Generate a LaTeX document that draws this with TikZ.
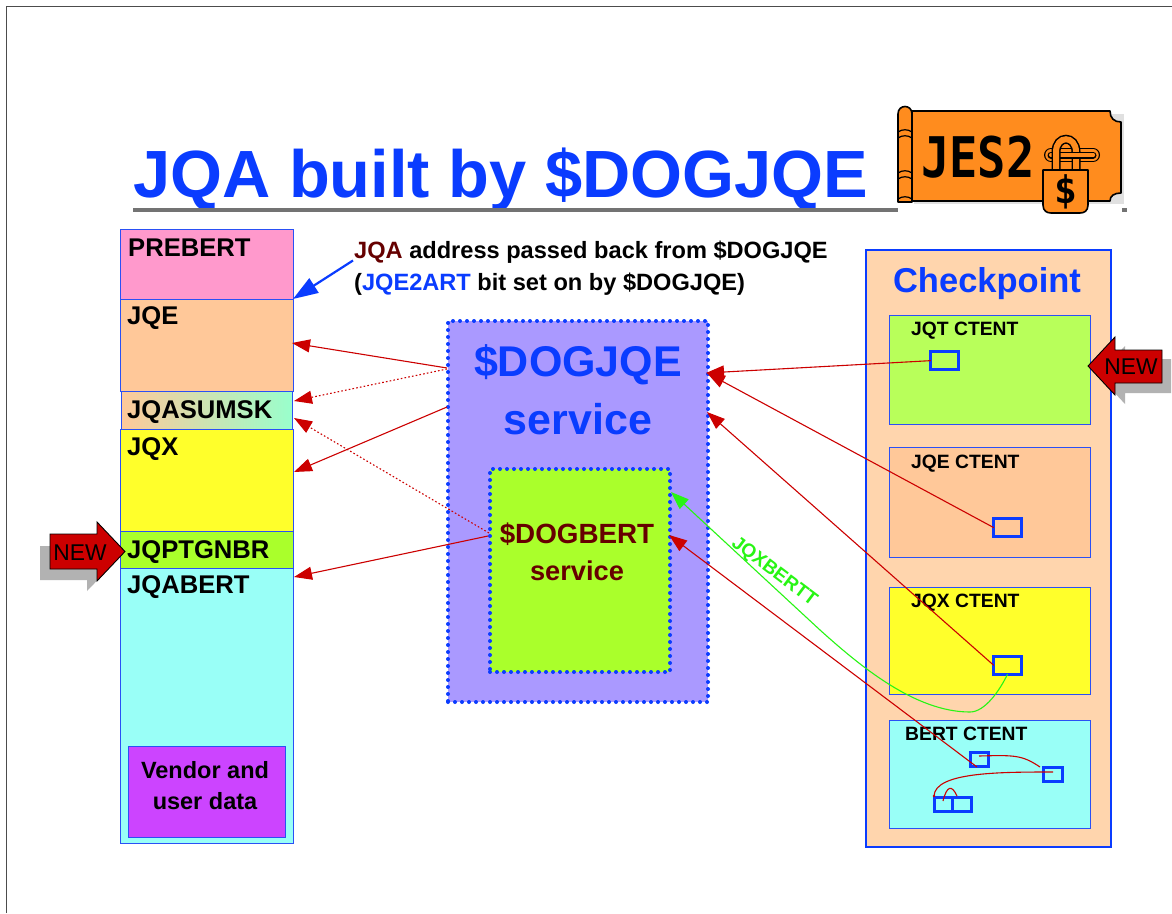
\documentclass[tikz,border=0pt]{standalone}
\usepackage{fontspec}
\setmainfont{Liberation Sans}
\newfontfamily\logofont{DejaVu Sans Mono}
\usetikzlibrary{arrows.meta}
\definecolor{tblue}{HTML}{0A3CFF}
\definecolor{lblue}{HTML}{2A50F5}
\definecolor{dred}{HTML}{660000}
\definecolor{ared}{HTML}{CC0000}
\definecolor{orng}{HTML}{FF8C1E}
\definecolor{lime}{HTML}{28F514}
\newcommand{\fsz}[1]{\fontsize{#1}{#1}\selectfont\bfseries}
\tikzset{
  area/.style={draw=lblue,line width=.9pt,anchor=north west,inner sep=0,outer sep=0},
  slot/.style={draw=tblue,line width=3pt,fill=none,anchor=north west,inner sep=0,outer sep=0},
  lab/.style={anchor=base west,inner sep=0,text=black,font=\fsz{25.600}},
  ctlab/.style={anchor=base west,inner sep=0,text=black,font=\fsz{19.300}},
  ctr/.style={draw=ared,line width=1.1pt,-{Triangle[length=18pt,width=13pt,fill=ared]}},
  ctrdot/.style={ctr,dash pattern=on 1.6pt off 2.2pt},
  inner/.style={draw=ared,line width=1.1pt},
  dotbox/.style={anchor=north west,inner sep=0,outer sep=0,draw=tblue,line width=4pt,line cap=round,dash pattern=on 0pt off 7pt},
  newarrow/.style={fill=ared,draw=black,line width=.9pt},
  shade/.style={fill=black!30},
  logoline/.style={draw=black,line width=1.6pt,fill=orng,line join=round},
}
\begin{document}
\begin{tikzpicture}[x=1pt,y=-1pt]
\useasboundingbox (0,0) rectangle (1172,913);
\fill[white] (0,0) rectangle (1172,913);
% slide edge
\coordinate (edgeA) at (6,913); \coordinate (edgeB) at (6,6); \coordinate (edgeC) at (1172,6);
\draw[black!70,line width=.7pt] (edgeA) -- (edgeB) -- (edgeC);
% title
\node[anchor=base west,inner sep=0,text=tblue,font=\fsz{66.800}] (title) at (133,197) {JQA built by \$DOGJQE};
\fill[black!55] (133,207.5) rectangle (898,211.5);
\fill[black!55] (1122,207.5) rectangle (1127,211.5);
% logo
\fill[black!12] (914,114) rectangle (1124,204);
\draw[logoline] (912,111) -- (1110,111) .. controls (1110,118) and (1114,122) .. (1121,122) -- (1121,193) .. controls (1114,193) and (1110,196) .. (1110,201) -- (912,201) -- cycle;
\draw[logoline] (898,202) -- (898,114) .. controls (898,104) and (912,104) .. (912,114) -- (912,202) -- cycle;
\draw[black,line width=1.2pt] (898,132) .. controls (902,129) and (908,129) .. (912,132) (898,138) .. controls (902,135) and (908,135) .. (912,138) (898,173) .. controls (902,170) and (908,170) .. (912,173) (898,179) .. controls (902,176) and (908,176) .. (912,179) (898,199) .. controls (902,196) and (908,196) .. (912,199);
\node[anchor=base west,inner sep=0,text=black,xscale=.84,font={\logofont\fsz{56}}] (logotext) at (921,177) {JES2};
\draw[black,line width=14pt,line cap=round] (1051,155) -- (1093,155);
\draw[orng,line width=11.5pt,line cap=round] (1051,155) -- (1093,155);
\draw[black,line width=7pt,line cap=round] (1051,155) -- (1093,155);
\draw[orng,line width=4pt,line cap=round] (1051,155) -- (1093,155);
\draw[black,line width=9pt] (1056,172) -- (1056,152) .. controls (1056,135) and (1076,135) .. (1076,152) -- (1076,172);
\draw[orng,line width=6pt] (1056,172) -- (1056,152) .. controls (1056,135) and (1076,135) .. (1076,152) -- (1076,172);
\draw[black,line width=7pt] (1070,155) -- (1093,155);
\draw[orng,line width=4pt,line cap=round] (1070,155) -- (1093,155);
\draw[logoline] (1043,170) -- (1088,170) -- (1088,205) .. controls (1088,211) and (1084,213) .. (1080,213) -- (1051,213) .. controls (1047,213) and (1043,211) .. (1043,205) -- cycle;
\node[inner sep=0,text=black,font={\logofont\fsz{38}}] (logodollar) at (1066,192) {\$};
% left column
\node[area,fill={rgb,255:red,255;green,153;blue,204},minimum width=173pt,minimum height=70pt] (prebert) at (120,229) {};
\node[area,fill={rgb,255:red,255;green,200;blue,153},minimum width=173pt,minimum height=92pt] (jqe) at (120,299) {};
\node[area,fill={rgb,255:red,255;green,255;blue,43},minimum width=173pt,minimum height=102pt] (jqx) at (120,429) {};
\node[area,left color={rgb,255:red,255;green,200;blue,153},right color={rgb,255:red,153;green,255;blue,204},minimum width=171pt,minimum height=38pt] (jqasumsk) at (121,391) {};
\node[area,fill={rgb,255:red,170;green,255;blue,43},minimum width=173pt,minimum height=37pt] (jqptgnbr) at (120,531) {};
\node[area,fill={rgb,255:red,153;green,255;blue,247},minimum width=173pt,minimum height=275pt] (jqabert) at (120,568) {};
\node[area,fill={rgb,255:red,204;green,68;blue,255},minimum width=157pt,minimum height=91pt] (vendor) at (128,746) {};
\node[lab] (lprebert) at (128,256) {PREBERT};
\node[lab] (ljqe) at (127,324) {JQE};
\node[lab] (ljqasumsk) at (127,418) {JQASUMSK};
\node[lab] (ljqx) at (127,455) {JQX};
\node[lab] (ljqptgnbr) at (127,558) {JQPTGNBR};
\node[lab] (ljqabert) at (127,593) {JQABERT};
\node[inner sep=0,align=center,text=black,font=\fsz{23.500}] (lvendor) at (205,785.500) {Vendor and\\[7.5pt]user data};
% note
\node[anchor=base west,inner sep=0,font=\fsz{23.600}] (note1) at (354,258) {\textcolor{dred}{JQA} address passed back from \$DOGJQE};
\node[anchor=base west,inner sep=0,font=\fsz{23.600}] (note2) at (354,290) {(\textcolor{tblue}{JQE2ART} bit set on by \$DOGJQE)};
% service
\fill[fill={rgb,255:red,170;green,153;blue,255}] (448,321) rectangle (708,702);
\node[dotbox,minimum width=260pt,minimum height=381pt] (svc) at (448,321) {};
\node[inner sep=0,text=tblue,font=\fsz{43}] (svct1) at (578,364.500) {\$DOGJQE};
\node[inner sep=0,text=tblue,font=\fsz{43}] (svct2) at (578,419) {service};
\fill[fill={rgb,255:red,170;green,255;blue,43}] (490,469) rectangle (670,672);
\node[dotbox,minimum width=180pt,minimum height=203pt] (dog) at (490,469) {};
\node[inner sep=0,text=dred,font=\fsz{27.800}] (dogt1) at (577,534) {\$DOGBERT};
\node[inner sep=0,text=dred,font=\fsz{27.200}] (dogt2) at (577,571) {service};
% checkpoint
\node[anchor=north west,inner sep=0,outer sep=0,fill={rgb,255:red,255;green,213;blue,173},draw=tblue,line width=1.8pt,minimum width=245pt,minimum height=597pt] (ckpt) at (866,250) {};
\node[inner sep=0,text=tblue,font=\fsz{34.500}] (ckptt) at (987,284) {Checkpoint};
\node[area,fill={rgb,255:red,184;green,255;blue,90},minimum width=201pt,minimum height=109pt] (ctjqt) at (889,315) {};
\node[area,fill={rgb,255:red,255;green,200;blue,153},minimum width=201pt,minimum height=110pt] (ctjqe) at (889,447) {};
\node[area,fill={rgb,255:red,255;green,255;blue,43},minimum width=201pt,minimum height=107pt] (ctjqx) at (889,587) {};
\node[area,fill={rgb,255:red,153;green,255;blue,247},minimum width=201pt,minimum height=108pt] (ctbert) at (889,720) {};
\node[ctlab] (lctjqt) at (911,335) {JQT CTENT};
\node[ctlab] (lctjqe) at (911,468) {JQE CTENT};
\node[ctlab] (lctjqx) at (911,607) {JQX CTENT};
\node[ctlab] (lctbert) at (905,740) {BERT CTENT};
\node[slot,minimum width=27.4pt,minimum height=17.7pt] (sjqt) at (930.8,351.8) {};
\node[slot,minimum width=27.4pt,minimum height=17.7pt] (sjqe) at (993.8,518.8) {};
\node[slot,minimum width=27.4pt,minimum height=17.7pt] (sjqx) at (993.8,656.5) {};
\node[slot,minimum width=18.5pt,minimum height=13.6pt] (sb1) at (970.2,752.5) {};
\node[slot,minimum width=19.3pt,minimum height=13.5pt] (sb2) at (1043.2,767.5) {};
\node[slot,minimum width=18.5pt,minimum height=14.6pt] (sb3) at (934.2,797.2) {};
\node[slot,minimum width=19.1pt,minimum height=14.6pt] (sb4) at (952.7,797.2) {};
% connector ends
\coordinate (jqein) at (292,343);
\coordinate (masktop) at (294,401);
\coordinate (maskbot) at (294,418);
\coordinate (jqxin) at (294,472);
\coordinate (bertin) at (294,577);
\coordinate (svcA) at (447,368);
\coordinate (svcB) at (447,369);
\coordinate (svcC) at (447,407);
\coordinate (dogA) at (489,533);
\coordinate (dogB) at (488,536);
\coordinate (svcR1) at (706,373);
\coordinate (svcR2) at (707,373);
\coordinate (svcR3) at (707,412);
\coordinate (dogR1) at (669,535);
\coordinate (dogR2) at (671,492);
\coordinate (noteEnd) at (353,260.500);
\coordinate (b1in) at (979,756);
\coordinate (b1out) at (977,767);
\coordinate (b2a) at (1040,767);
\coordinate (b2b) at (1053,772);
\coordinate (b3a) at (934,796);
\coordinate (b3b) at (943,801);
\coordinate (b4a) at (957,796);
% connectors
\draw[ctr] (svcA) -- (jqein);
\draw[ctrdot] (svcB) -- (masktop);
\draw[ctr] (svcC) -- (jqxin);
\draw[ctrdot] (dogA) -- (maskbot);
\draw[ctr] (dogB) -- (bertin);
\draw[ctr] (sjqt.west) -- (svcR1);
\draw[ctr] (sjqe.west) -- (svcR2);
\draw[ctr] (sjqx.west) -- (svcR3);
\draw[ctr] (b1out) -- (dogR1);
\draw[draw=lime,line width=1.1pt,-{Triangle[length=18pt,width=13pt,fill=lime]}] (sjqx.south) .. controls (1000,690) and (985,712) .. (970,712) .. controls (915,712) and (860,666) .. (820,630) -- (dogR2);
\node[inner sep=0,rotate=-37,text=lime,font=\fsz{19}] (jqxbertt) at (774,572) {JQXBERTT};
\draw[tblue,line width=2.2pt,-{Triangle[length=25pt,width=17pt,fill=tblue]}] (noteEnd) -- (prebert.south east);
\draw[inner] (b1in) .. controls (1015,755) and (1022,755) .. (b2a);
\draw[inner] (b2b) .. controls (1000,772) and (935,772) .. (b3a);
\draw[inner] (b3b) .. controls (947,785) and (952,785) .. (b4a);
\fill[ared] (b3a) circle (1.3pt);
% NEW arrows
\fill[shade] (40,546) -- (87,546) -- (87,534) -- (115,562) -- (87,591) -- (87,580) -- (40,580) -- cycle;
\path[newarrow] (50,534) -- (97,534) -- (97,522) -- (125,551.500) -- (97,581) -- (97,569) -- (50,569) -- cycle;
\node[inner sep=0,text=black,font=\fontsize{22.8}{22.8}\selectfont] (newl) at (80,553) {NEW};
\fill[shade] (1098,375) -- (1125,346) -- (1125,359) -- (1171,359) -- (1171,393) -- (1125,393) -- (1125,404) -- cycle;
\path[newarrow] (1088,366) -- (1115,337) -- (1115,350) -- (1162,350) -- (1162,383) -- (1115,383) -- (1115,395) -- cycle;
\node[inner sep=0,text=black,font=\fontsize{22.8}{22.8}\selectfont] (newr) at (1131,367) {NEW};
\end{tikzpicture}
\end{document}
